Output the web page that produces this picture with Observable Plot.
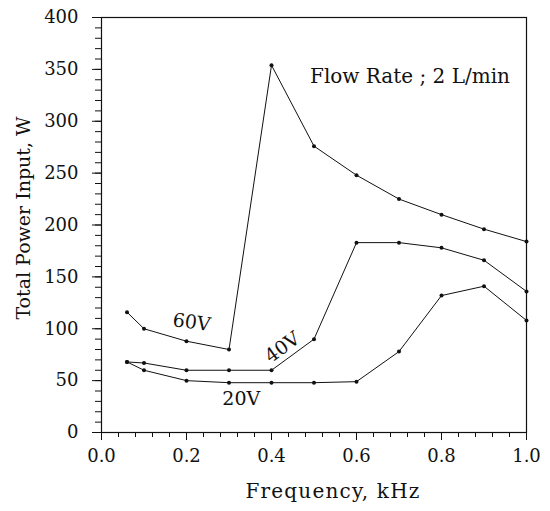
<!DOCTYPE html>
<html>
<head>
<meta charset="utf-8">
<script src="https://cdn.jsdelivr.net/npm/d3@7"></script>
<script src="https://cdn.jsdelivr.net/npm/@observablehq/plot@0.6"></script>
<style>
  html, body { margin: 0; padding: 0; background: #fff; }
  svg { display: block; }
  svg, svg text { font-family: "DejaVu Serif", serif !important; }
  .spaced { letter-spacing: 1.2px; }
</style>
</head>
<body>
<div id="chart"></div>
<script>
const frequency = [0.06, 0.1, 0.2, 0.3, 0.4, 0.5, 0.6, 0.7, 0.8, 0.9, 1.0];
const power60V = [116, 100, 88, 80, 354, 276, 248, 225, 210, 196, 184];
const power40V = [68, 67, 60, 60, 60, 90, 183, 183, 178, 166, 136];
const power20V = [68, 60, 50, 48, 48, 48, 49, 78, 132, 141, 108];
const xTicks = [0, 0.2, 0.4, 0.6, 0.8, 1.0];
const yTicks = [0, 50, 100, 150, 200, 250, 300, 350, 400];
const seriesNames = ["60V", "40V", "20V"];
const labelX = [0.212, 0.426, 0.329];
const labelY = [106, 82, 32];
const labelRotate = [8, -36, 0];
const noteText = "Flow Rate ; 2 L/min";

const seriesValues = [power60V, power40V, power20V];
const rows = seriesNames.flatMap((s, i) =>
  frequency.map((f, j) => ({series: s, f, p: seriesValues[i][j]})));
const labels = seriesNames.map((s, i) => ({text: s, x: labelX[i], y: labelY[i], rotate: labelRotate[i]}));

const chart = Plot.plot({
  width: 550,
  height: 511,
  marginLeft: 101,
  marginRight: 24,
  marginTop: 17,
  marginBottom: 79,
  style: {fontFamily: "DejaVu Serif", fontSize: "18px", color: "#111", background: "#fff"},
  x: {domain: [0, 1]},
  y: {domain: [0, 400]},
  marks: [
    Plot.frame({stroke: "#111", strokeWidth: 1.2}),
    Plot.axisX(d3.range(0, 1.0001, 0.04), {tickSize: 5, tickFormat: () => "", label: null, stroke: "#111"}),
    Plot.axisX(xTicks, {tickSize: 8, tickPadding: 9, tickFormat: d3.format(".1f"), label: null, stroke: "#111"}),
    Plot.axisY(d3.range(0, 400.0001, 10), {tickSize: 6, tickFormat: () => "", label: null, stroke: "#111"}),
    Plot.axisY(yTicks, {tickSize: 9, tickPadding: 14, label: null, stroke: "#111"}),
    Plot.line(rows, {x: "f", y: "p", z: "series", stroke: "#111", strokeWidth: 1}),
    Plot.dot(rows, {x: "f", y: "p", r: 2, fill: "#111"}),
    Plot.text(labels, {x: "x", y: "y", text: "text", rotate: "rotate", fontSize: 19, fill: "#111"}),
    Plot.text([noteText], {frameAnchor: "top", dx: 96, dy: 51, fontSize: 20, fill: "#111"}),
    Plot.text(["Frequency, kHz"], {frameAnchor: "bottom", dx: 19, dy: 65, fontSize: 20, fill: "#111", className: "spaced"}),
    Plot.text(["Total Power Input, W"], {frameAnchor: "left", textAnchor: "middle", dx: -78, dy: -7, rotate: -90, fontSize: 19, fill: "#111"})
  ]
});
document.getElementById("chart").appendChild(chart);
</script>
</body>
</html>
